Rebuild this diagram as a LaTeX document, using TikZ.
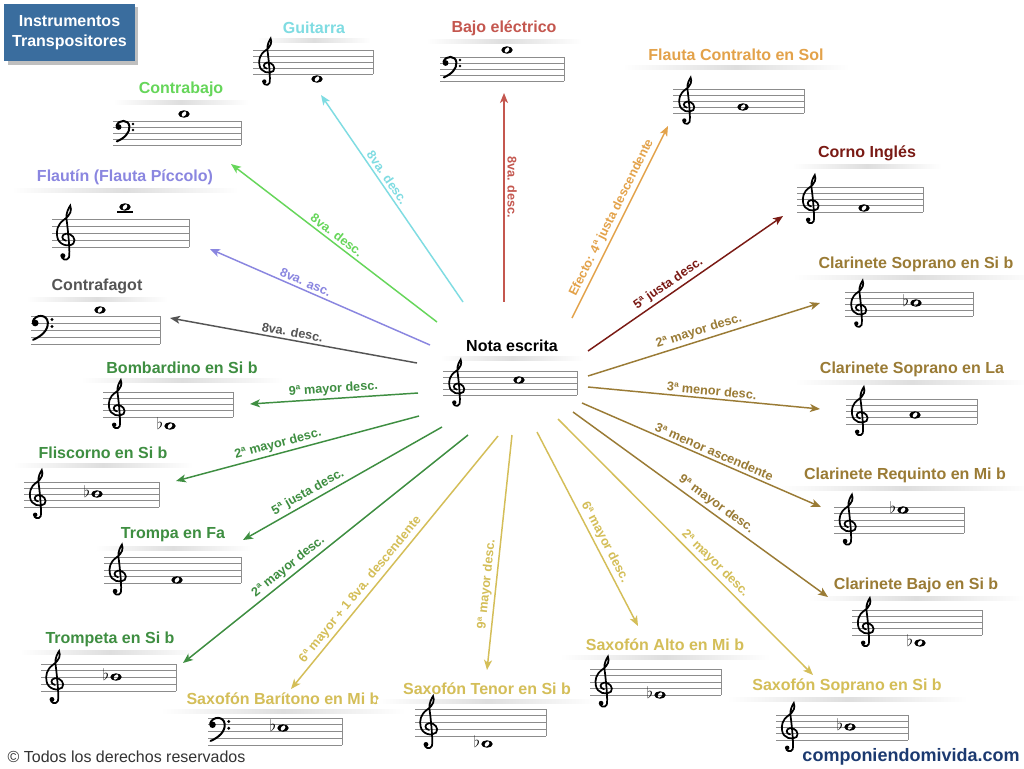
\documentclass[tikz,border=0pt]{standalone}
\usepackage{fontspec}
\setmainfont{Liberation Sans}
\usetikzlibrary{arrows.meta, shadows}
\definecolor{TituloAzul}{HTML}{3A6D9E}
\definecolor{Cian}{HTML}{7FDCE2}
\definecolor{Rojo}{HTML}{C4574F}
\definecolor{Naranja}{HTML}{E3A24A}
\definecolor{VerdeClaro}{HTML}{66D65A}
\definecolor{Lila}{HTML}{8A86E0}
\definecolor{Gris}{HTML}{555555}
\definecolor{Verde}{HTML}{3E8E41}
\definecolor{Amarillo}{HTML}{D4BE58}
\definecolor{Dorado}{HTML}{9A7B35}
\definecolor{Granate}{HTML}{7A1A14}
\definecolor{Web}{HTML}{1C3A70}

% claves dibujadas (origen: linea de abajo del pentagrama)
\tikzset{
  claveSol/.pic={
    \begin{scope}[yscale=-1]
      \draw[line width=1.3pt, line cap=round]
        (-0.49,-1.25) .. controls (-0.84,-1.7) and (0.14,-2.1) .. (0.42,-1.5)
        .. controls (0.63,-1.0) and (0.28,2.5) .. (0.07,4.0)
        .. controls (-0.07,4.8) and (0.45,5.7) .. (0.6,5.9)
        .. controls (0.85,5.3) and (0.7,4.6) .. (-0.28,3.9)
        .. controls (-1.26,3.2) and (-1.4,2.3) .. (-1.26,1.5)
        .. controls (-1.12,0.3) and (0.42,-0.1) .. (1.05,0.5)
        .. controls (1.54,1.1) and (0.84,2.0) .. (0.0,1.9)
        .. controls (-0.7,1.8) and (-0.7,1.0) .. (0.0,0.9);
      \fill (-0.45,-1.25) circle (0.36);
    \end{scope}
  },
  claveFa/.pic={
    \begin{scope}[yscale=-1]
      \fill (-1.4,3) circle (0.48);
      \draw[line width=1.5pt, line cap=round]
        (-1.75,3.2) .. controls (-1.4,4.3) and (0.3,4.3) .. (0.4,3.1)
        .. controls (0.5,2.0) and (-0.5,1.1) .. (-1.7,0.6);
      \fill (1.0,3.5) circle (0.24) (1.0,2.5) circle (0.24);
    \end{scope}
  }
}

% pentagrama: nombre, x, y (linea de arriba), ancho, espacio, clave
\newcommand{\pentagrama}[6]{%
  \foreach \l in {0,...,4}
    \draw[linea] (#2,#3+\l*#5) -- ++(#4,0);
  \draw[linea] (#2+#4,#3) -- (#2+#4,#3+4*#5);
  \pic[scale=#5] (#1-clave) at (#2+14,#3+4*#5) {#6};
}
% redonda: nombre, x, y
\newcommand{\redonda}[3]{%
  \fill[even odd rule] (#2,#3) ellipse [x radius=4.3pt, y radius=2.8pt]
    (#2,#3) ellipse [x radius=1.5pt, y radius=2.3pt, rotate=-40];
  \coordinate (#1) at (#2,#3);
}
\newcommand{\bemol}[3]{\node[bemol] (#1) at (#2-10,#3) {$\flat$};}
% etiqueta: nombre, x, y, color, texto
\newcommand{\etiqueta}[5]{%
  \node[instr, text=#4] (#1) at (#2,#3) {#5};
  \shade[left color=white, right color=white, middle color=black!13]
    ([xshift=-18pt, yshift=-2pt]#1.south west) rectangle ([xshift=18pt, yshift=-5pt]#1.south east);
}

\begin{document}
\begin{tikzpicture}[
    x=0.75pt, y=-0.75pt,
    linea/.style={draw=black!45, line width=0.6pt},
    bemol/.style={inner sep=0pt, font=\fontsize{12}{12}\selectfont, yshift=2pt},
    instr/.style={font=\fontsize{12}{14}\bfseries, inner sep=1pt},
    titulo/.style={rectangle, fill=TituloAzul, text=white, align=center,
      minimum width=98pt, minimum height=43pt, drop shadow,
      font=\fontsize{12}{15}\bfseries},
    flecha/.style={-{Stealth[length=7.5pt, width=6pt, inset=2pt]}, line width=1.1pt},
    flechainv/.style={{Stealth[length=7.5pt, width=6pt, inset=2pt]}-, line width=1.1pt},
    int/.style={sloped, above, inner sep=2pt, font=\fontsize{9.5}{11}\bfseries}
  ]
  \fill[white] (0,0) rectangle (1024,768);
  \useasboundingbox (0,0) rectangle (1024,768);

  \node[titulo] (titulo) at (69.5,32.5) {Instrumentos\\Transpositores};

  % pentagramas
  \etiqueta{guitarra}{314}{28}{Cian}{Guitarra}
  \pentagrama{guitarra}{253}{50}{120}{6}{claveSol}
  \redonda{guitarra-nota}{317}{79}

  \etiqueta{bajo}{504}{28}{Rojo}{Bajo eléctrico}
  \pentagrama{bajo}{440}{57}{124}{6}{claveFa}
  \redonda{bajo-nota}{507}{50}

  \etiqueta{flauta}{736}{55}{Naranja}{Flauta Contralto en Sol}
  \pentagrama{flauta}{673}{89}{131}{6}{claveSol}
  \redonda{flauta-nota}{743}{107}

  \etiqueta{contrabajo}{181}{89}{VerdeClaro}{Contrabajo}
  \pentagrama{contrabajo}{113}{121}{128}{6}{claveFa}
  \redonda{contrabajo-nota}{184}{114}

  \etiqueta{flautin}{125}{177}{Lila}{Flautín (Flauta Píccolo)}
  \pentagrama{flautin}{52}{219}{137}{7}{claveSol}
  \draw[line width=0.8pt] (117,212) -- (133,212);
  \redonda{flautin-nota}{125}{207}

  \etiqueta{contrafagot}{97}{286}{Gris}{Contrafagot}
  \pentagrama{contrafagot}{31}{316}{129}{7}{claveFa}
  \redonda{contrafagot-nota}{100}{310}

  \etiqueta{nota}{512}{346}{black}{Nota escrita}
  \pentagrama{nota}{443}{371}{134}{6}{claveSol}
  \redonda{nota-nota}{519}{380}

  \etiqueta{bombardino}{182}{368}{Verde}{Bombardino en Si b}
  \pentagrama{bombardino}{103}{392}{130}{6.25}{claveSol}
  \bemol{bombardino-bemol}{170}{426}
  \redonda{bombardino-nota}{170}{426}

  \etiqueta{fliscorno}{103}{453}{Verde}{Fliscorno en Si b}
  \pentagrama{fliscorno}{24}{482}{135}{6.25}{claveSol}
  \bemol{fliscorno-bemol}{97}{494}
  \redonda{fliscorno-nota}{97}{494}

  \etiqueta{trompa}{173}{535}{Verde}{Trompa en Fa}
  \pentagrama{trompa}{104}{557}{137}{6.5}{claveSol}
  \redonda{trompa-nota}{177}{580}

  \etiqueta{trompeta}{110}{639}{Verde}{Trompeta en Si b}
  \pentagrama{trompeta}{41}{664}{135}{6.75}{claveSol}
  \bemol{trompeta-bemol}{116}{677}
  \redonda{trompeta-nota}{116}{677}

  \etiqueta{baritono}{283}{699}{Amarillo}{Saxofón Barítono en Mi b}
  \pentagrama{baritono}{208}{718}{134}{6.75}{claveFa}
  \bemol{baritono-bemol}{283}{728}
  \redonda{baritono-nota}{283}{728}

  \etiqueta{tenor}{487}{689}{Amarillo}{Saxofón Tenor en Si b}
  \pentagrama{tenor}{415}{709}{131}{6.75}{claveSol}
  \bemol{tenor-bemol}{487}{744}
  \redonda{tenor-nota}{487}{744}

  \etiqueta{alto}{665}{645}{Amarillo}{Saxofón Alto en Mi b}
  \pentagrama{alto}{590}{669}{131}{6.5}{claveSol}
  \bemol{alto-bemol}{660}{695}
  \redonda{alto-nota}{660}{695}

  \etiqueta{soprano}{847}{686}{Amarillo}{Saxofón Soprano en Si b}
  \pentagrama{soprano}{776}{715}{132}{6.25}{claveSol}
  \bemol{soprano-bemol}{850}{727}
  \redonda{soprano-nota}{850}{727}

  \etiqueta{clbajo}{916}{585}{Dorado}{Clarinete Bajo en Si b}
  \pentagrama{clbajo}{852}{610}{130}{6.25}{claveSol}
  \bemol{clbajo-bemol}{920}{643}
  \redonda{clbajo-nota}{920}{643}

  \etiqueta{requinto}{905}{475}{Dorado}{Clarinete Requinto en Mi b}
  \pentagrama{requinto}{834}{507}{130}{6.5}{claveSol}
  \bemol{requinto-bemol}{903}{510}
  \redonda{requinto-nota}{903}{510}

  \etiqueta{clla}{912}{369}{Dorado}{Clarinete Soprano en La}
  \pentagrama{clla}{846}{399}{131}{6.25}{claveSol}
  \redonda{clla-nota}{915}{415}

  \etiqueta{clsib}{916}{264}{Dorado}{Clarinete Soprano en Si b}
  \pentagrama{clsib}{845}{292}{128}{6}{claveSol}
  \bemol{clsib-bemol}{916}{303}
  \redonda{clsib-nota}{916}{303}

  \etiqueta{corno}{867}{153}{Granate}{Corno Inglés}
  \pentagrama{corno}{797}{187}{126}{6.25}{claveSol}
  \redonda{corno-nota}{864}{208}

  % puntas de las flechas
  \coordinate (g-s) at (463,302);   \coordinate (g-e) at (321,95);
  \coordinate (b-s) at (504,302);   \coordinate (b-e) at (504,93);
  \coordinate (fc-s) at (572,318);  \coordinate (fc-e) at (668,126);
  \coordinate (cb-s) at (437,322);  \coordinate (cb-e) at (231,164);
  \coordinate (fl-s) at (430,345);  \coordinate (fl-e) at (210,249);
  \coordinate (cf-s) at (417,363);  \coordinate (cf-e) at (170,318);
  \coordinate (bo-s) at (418,393);  \coordinate (bo-e) at (250,404);
  \coordinate (fs-s) at (419,416);  \coordinate (fs-e) at (176,481);
  \coordinate (tf-s) at (442,427);  \coordinate (tf-e) at (243,540);
  \coordinate (tp-s) at (468,435);  \coordinate (tp-e) at (183,663);
  \coordinate (sb-s) at (498,436);  \coordinate (sb-e) at (291,689);
  \coordinate (st-s) at (512,435);  \coordinate (st-e) at (487,670);
  \coordinate (sa-s) at (537,432);  \coordinate (sa-e) at (638,626);
  \coordinate (ss-s) at (558,419);  \coordinate (ss-e) at (813,675);
  \coordinate (cj-s) at (573,412);  \coordinate (cj-e) at (828,597);
  \coordinate (rq-s) at (582,403);  \coordinate (rq-e) at (821,507);
  \coordinate (cl-s) at (588,387);  \coordinate (cl-e) at (820,409);
  \coordinate (cs-s) at (588,376);  \coordinate (cs-e) at (820,303);
  \coordinate (ci-s) at (588,351);  \coordinate (ci-e) at (783,216);

  \draw[flecha, Cian] (g-s) -- node[int, pos=.58] {8va. desc.} (g-e);
  \draw[flechainv, Rojo] (b-e) -- node[int, pos=.45] {8va. desc.} (b-s);
  \draw[flecha, Naranja] (fc-s) -- node[int, pos=.5] {Efecto: 4ª justa descendente} (fc-e);
  \draw[flecha, VerdeClaro] (cb-s) -- node[int, pos=.51] {8va. desc.} (cb-e);
  \draw[flecha, Lila] (fl-s) -- node[int, pos=.58] {8va. asc.} (fl-e);
  \draw[flecha, Gris] (cf-s) -- node[int, pos=.51] {8va. desc.} (cf-e);
  \draw[flecha, Verde] (bo-s) -- node[int, pos=.5] {9ª mayor desc.} (bo-e);
  \draw[flecha, Verde] (fs-s) -- node[int, pos=.57] {2ª mayor desc.} (fs-e);
  \draw[flecha, Verde] (tf-s) -- node[int, pos=.65] {5ª justa desc.} (tf-e);
  \draw[flecha, Verde] (tp-s) -- node[int, pos=.61] {2ª mayor desc.} (tp-e);
  \draw[flecha, Amarillo] (sb-s) -- node[int, pos=.63] {6ª mayor + 1 8va. descendente} (sb-e);
  \draw[flecha, Amarillo] (st-s) -- node[int, pos=.64] {9ª mayor desc.} (st-e);
  \draw[flecha, Amarillo] (sa-s) -- node[int, pos=.59] {6ª mayor desc.} (sa-e);
  \draw[flecha, Amarillo] (ss-s) -- node[int, pos=.59] {2ª mayor desc.} (ss-e);
  \draw[flecha, Dorado] (cj-s) -- node[int, pos=.54] {9ª mayor desc.} (cj-e);
  \draw[flecha, Dorado] (rq-s) -- node[int, pos=.54] {3ª menor ascendente} (rq-e);
  \draw[flecha, Dorado] (cl-s) -- node[int, pos=.53] {3ª menor desc.} (cl-e);
  \draw[flecha, Dorado] (cs-s) -- node[int, pos=.49] {2ª mayor desc.} (cs-e);
  \draw[flecha, Granate] (ci-s) -- node[int, pos=.44] {5ª justa desc.} (ci-e);

  \node[anchor=west, font=\fontsize{12}{14}\selectfont, text=black!80] (derechos) at (3,757) {© Todos los derechos reservados};
  \node[font=\fontsize{13.5}{15}\bfseries, text=Web] (web) at (911,757) {componiendomivida.com};
\end{tikzpicture}
\end{document}
